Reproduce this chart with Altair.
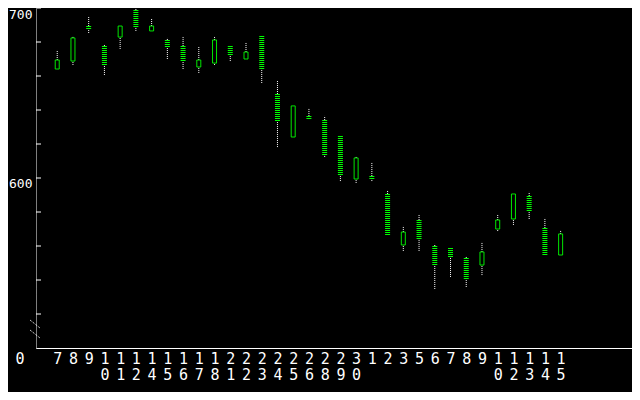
import altair as alt
import pandas as pd

days = ["7", "8", "9", "10", "11", "12", "14", "15", "16", "17", "18", "21", "22", "23",
        "24", "25", "26", "28", "29", "30", "1", "2", "3", "5", "6", "7", "8", "9", "10",
        "12", "13", "14", "15"]
opens = [664.1, 668.8, 689.4, 677.6, 682.9, 698.8, 686.5, 681.2, 677.6, 665.3, 667.6,
         677.6, 670.0, 683.5, 649.4, 624.1, 636.5, 634.1, 624.7, 599.4, 601.2, 590.6,
         560.6, 575.3, 560.0, 558.8, 552.9, 548.8, 570.0, 575.9, 589.4, 570.6, 554.7]
highs = [675.3, 683.5, 695.3, 678.8, 689.4, 700.0, 694.1, 682.4, 683.5, 677.6, 683.5,
         677.6, 680.0, 683.5, 657.6, 642.4, 641.2, 636.5, 624.7, 612.9, 609.4, 592.9,
         571.8, 578.8, 561.2, 558.8, 554.1, 562.4, 578.8, 590.6, 591.8, 576.5, 569.4]
lows = [664.1, 666.5, 685.3, 660.6, 675.9, 686.5, 686.5, 670.0, 664.1, 661.8, 666.5,
        668.8, 670.0, 655.9, 618.2, 624.1, 634.7, 612.4, 598.2, 597.1, 598.2, 566.5,
        557.1, 557.1, 534.7, 541.8, 535.9, 542.9, 568.8, 572.4, 575.9, 554.7, 554.7]
closes = [669.4, 682.4, 687.6, 666.5, 689.4, 688.8, 689.4, 677.1, 668.8, 669.4, 681.2,
          672.4, 674.1, 664.1, 633.5, 642.4, 634.7, 613.5, 601.8, 611.8, 599.4, 566.5,
          568.2, 564.1, 548.8, 553.5, 540.6, 556.5, 575.3, 590.6, 580.6, 554.7, 567.1]
y_tick_values = [520, 540, 560, 580, 600, 620, 640, 660, 680, 700]
y_label_values = [600, 700]
origin_label = ["0"]

df = pd.DataFrame({"i": list(range(len(days))), "day": days, "open": opens,
                   "high": highs, "low": lows, "close": closes})
df["top"] = df[["open", "close"]].max(axis=1)
df["bot"] = df[["open", "close"]].min(axis=1)
df["up"] = df["close"] > df["open"]

GREEN = "#00ff00"
FONT = "DejaVu Sans Mono"
W, H = 596, 340

xscale = alt.Scale(domain=[-1.03125, 36.21875], nice=False, zero=False)
yscale = alt.Scale(domain=[500, 700], nice=False, zero=False)

label_arr = "[" + ",".join("'%s'" % d for d in days) + "]"

x_axis = alt.Axis(values=list(range(len(days))),
                  labelExpr="split(%s[datum.value], '')" % label_arr,
                  ticks=False, grid=False, domainColor="white", domainWidth=1,
                  labelColor="white", labelFont=FONT, labelFontSize=15,
                  labelLineHeight=16, labelBaseline="top", labelPadding=3,
                  labelAngle=0, labelOverlap=False, title=None)
y_axis = alt.Axis(values=y_label_values, ticks=False, grid=False,
                  domainColor="white", domainDash=[1, 1], labelColor="white",
                  labelFont=FONT, labelFontSize=13, labelBaseline="top",
                  labelOffset={"condition": {"test": "datum.value == 700", "value": 0},
                               "value": -1},
                  labelPadding=4, title=None)

X = lambda: alt.X("i:Q", scale=xscale, axis=x_axis)

base = alt.Chart(df)

upper_wick = base.mark_rule(color="white", strokeDash=[1, 1], strokeWidth=1).encode(
    x=X(), y=alt.Y("top:Q", scale=yscale, axis=y_axis), y2="high:Q")
lower_wick = base.mark_rule(color="white", strokeDash=[1, 1], strokeWidth=1).encode(
    x=X(), y=alt.Y("low:Q", scale=yscale, axis=y_axis), y2="bot:Q")
filled = base.transform_filter("!datum.up").mark_rule(
    color=GREEN, strokeWidth=5, strokeDash=[1, 1]).encode(
    x=X(), y=alt.Y("bot:Q", scale=yscale, axis=y_axis), y2="top:Q")
hollow = base.transform_filter("datum.up").mark_bar(
    filled=False, stroke=GREEN, strokeWidth=1, size=4, strokeOpacity=0.9).encode(
    x=X(), y=alt.Y("bot:Q", scale=yscale, axis=y_axis), y2="top:Q")

yticks = alt.Chart(pd.DataFrame({"v": y_tick_values})).mark_rule(
    color="white", strokeWidth=1).encode(
    y=alt.Y("v:Q", scale=yscale, axis=y_axis), x=alt.value(0), x2=alt.value(5))

one = pd.DataFrame({"t": origin_label})
zero_lbl = alt.Chart(one).mark_text(
    color="white", font=FONT, fontSize=15, baseline="top", align="center").encode(
    text="t:N", x=alt.value(-16), y=alt.value(344))
brk1 = alt.Chart(one).mark_rule(color="white", strokeDash=[1, 1]).encode(
    x=alt.value(-6), x2=alt.value(4), y=alt.value(312), y2=alt.value(320))
brk2 = alt.Chart(one).mark_rule(color="white", strokeDash=[1, 1]).encode(
    x=alt.value(-6), x2=alt.value(4), y=alt.value(322), y2=alt.value(330))

chart = alt.layer(upper_wick, lower_wick, hollow, filled, yticks, zero_lbl, brk1, brk2).properties(
    width=W, height=H,
    autosize=alt.AutoSizeParams(type="none"),
    padding={"left": 28, "top": 0, "right": 0, "bottom": 44},
    background="black",
).configure_view(stroke="transparent")

chart.save("out.html", embed_options={"renderer": "svg", "actions": False})
